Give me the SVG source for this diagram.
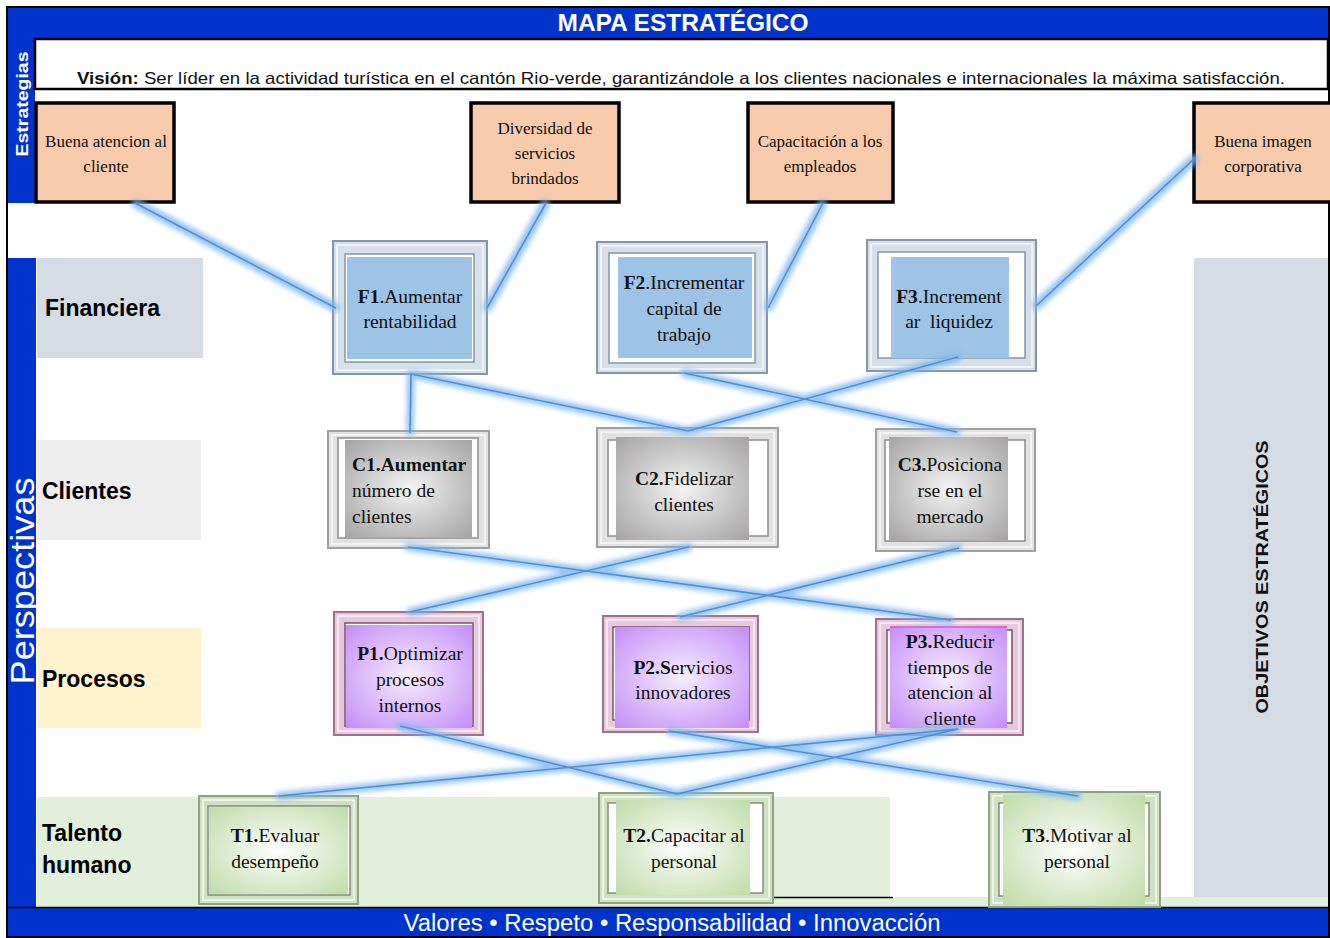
<svg xmlns="http://www.w3.org/2000/svg" width="1330" height="938" viewBox="0 0 1330 938">
<style>
.bar{fill:#0033CC}
.wt{fill:#fff;font-family:"Liberation Sans",Arial,sans-serif}
.lab{font-family:"Liberation Sans",Arial,sans-serif;font-weight:bold;font-size:23px;fill:#000}
.sbox{fill:#F8CBAD;stroke:#000;stroke-width:3.5}
.st{font-family:"Liberation Serif","Times New Roman",serif;font-size:17px;fill:#111;text-anchor:middle}
.nt{font-family:"Liberation Serif","Times New Roman",serif;font-size:19.5px;fill:#111;text-anchor:middle}
.b{font-weight:bold}
.fo{fill:#D6E0EA;stroke:#8496A9;stroke-width:2}
.fi{fill:#fff;stroke:#8496A9;stroke-width:1.5}
.fc{fill:#9DC3E6}
.co{fill:#E2E2E2;stroke:#A0A0A0;stroke-width:2}
.ci{fill:#fff;stroke:#8C8C8C;stroke-width:1.5}
.cc{fill:url(#gGray)}
.po{fill:#E8C8DC;stroke:#A0708F;stroke-width:2}
.pi{fill:#fff;stroke:#7A5070;stroke-width:1.5}
.pc{fill:url(#gPurp)}
.to{fill:#D0E0C2;stroke:#8FA383;stroke-width:2}
.ti{fill:#fff;stroke:#7E8F74;stroke-width:1.5}
.tc{fill:url(#gGreen)}
.hl{fill:none;stroke:#fff;stroke-width:1.5;opacity:0.8}
.cn{fill:none;stroke:#4F8FD8;stroke-width:1.6}
</style>
<defs>
<radialGradient id="gGray" cx="0.5" cy="0.5" r="0.7"><stop offset="0" stop-color="#F4F4F4"/><stop offset="1" stop-color="#A5A3A3"/></radialGradient>
<radialGradient id="gPurp" cx="0.5" cy="0.5" r="0.7"><stop offset="0" stop-color="#F6EEFF"/><stop offset="1" stop-color="#C48EF6"/></radialGradient>
<radialGradient id="gGreen" cx="0.5" cy="0.5" r="0.7"><stop offset="0" stop-color="#FFFFFF"/><stop offset="1" stop-color="#BFDCA9"/></radialGradient>
<filter id="glow" filterUnits="userSpaceOnUse" x="0" y="0" width="1330" height="938">
<feMorphology in="SourceAlpha" operator="dilate" radius="2.5" result="d"/>
<feGaussianBlur in="d" stdDeviation="2.5" result="bl"/>
<feFlood flood-color="#7DB7F0" flood-opacity="0.8"/>
<feComposite in2="bl" operator="in" result="g"/>
<feMerge><feMergeNode in="g"/><feMergeNode in="SourceGraphic"/></feMerge>
</filter>
</defs>

<g id="background">
<rect x="0" y="0" width="1330" height="938" fill="#fff"/>
<rect x="37" y="258" width="166" height="100" fill="#D6DCE4"/>
<rect x="37" y="440" width="164" height="100" fill="#EDEDED"/>
<rect x="37" y="628" width="164" height="100" fill="#FFF2CC"/>
<rect x="37" y="797" width="853" height="100" fill="#E2EFDA"/>
<rect x="37" y="897" width="1292" height="11" fill="#E2EFDA"/>
<rect x="1194" y="258" width="135" height="639" fill="#D6DCE4"/>
<line x1="749" y1="897.5" x2="893" y2="897.5" stroke="#000" stroke-width="1.5"/>
</g>

<g id="frame">
<rect class="bar" x="8" y="8" width="1321" height="30"/>
<rect class="bar" x="8" y="38" width="27" height="165"/>
<rect class="bar" x="8" y="258" width="28" height="650"/>
<rect class="bar" x="8" y="908" width="1321" height="29"/>
<rect x="35" y="39" width="1293" height="50" fill="#fff" stroke="#000" stroke-width="2.5"/>
<rect x="7" y="7" width="1322" height="930" fill="none" stroke="#000" stroke-width="2"/>
<line x1="7" y1="907.5" x2="1329" y2="907.5" stroke="#000" stroke-width="1.5"/>
<text class="wt" x="683" y="31" font-size="23" font-weight="bold" text-anchor="middle" textLength="251" lengthAdjust="spacingAndGlyphs">MAPA ESTRATÉGICO</text>
<text class="wt" x="672" y="931" font-size="23" text-anchor="middle" textLength="537" lengthAdjust="spacingAndGlyphs">Valores • Respeto • Responsabilidad • Innovacción</text>
<text class="wt" transform="translate(28,104) rotate(-90)" font-size="16" font-weight="bold" text-anchor="middle" textLength="105" lengthAdjust="spacingAndGlyphs">Estrategias</text>
<text class="wt" transform="translate(34,581) rotate(-90)" font-size="34" text-anchor="middle" textLength="207" lengthAdjust="spacingAndGlyphs">Perspectivas</text>
<text transform="translate(1268,577) rotate(-90)" font-family="Liberation Sans,Arial,sans-serif" font-size="17" font-weight="bold" fill="#111" text-anchor="middle" textLength="273" lengthAdjust="spacingAndGlyphs">OBJETIVOS ESTRATÉGICOS</text>
<text x="77" y="84" font-family="Liberation Sans,Arial,sans-serif" font-size="16.5" fill="#111" textLength="1208" lengthAdjust="spacingAndGlyphs"><tspan font-weight="bold">Visión:</tspan> Ser líder en la actividad turística en el cantón Rio-verde, garantizándole a los clientes nacionales e internacionales la máxima satisfacción.</text>
<text class="lab" x="45" y="316">Financiera</text>
<text class="lab" x="42" y="499">Clientes</text>
<text class="lab" x="42" y="687">Procesos</text>
<text class="lab" x="42" y="841">Talento</text>
<text class="lab" x="42" y="873">humano</text>
</g>

<g id="s1"><rect class="sbox" x="36" y="103" width="138" height="99"/><text class="st" x="106" y="147">Buena atencion al</text><text class="st" x="106" y="172">cliente</text></g>
<g id="s2"><rect class="sbox" x="471" y="103" width="148" height="99"/><text class="st" x="545" y="134">Diversidad de</text><text class="st" x="545" y="159">servicios</text><text class="st" x="545" y="184">brindados</text></g>
<g id="s3"><rect class="sbox" x="748" y="103" width="145" height="99"/><text class="st" x="820" y="147">Capacitación a los</text><text class="st" x="820" y="172">empleados</text></g>
<g id="s4"><rect class="sbox" x="1194" y="103" width="140" height="99"/><text class="st" x="1263" y="147">Buena imagen</text><text class="st" x="1263" y="172">corporativa</text></g>

<g id="F1"><rect class="fo" x="333" y="241" width="154" height="133"/><rect class="hl" x="337" y="245" width="146" height="125"/><rect class="fi" x="345" y="254" width="129" height="108"/><rect class="fc" x="347" y="257" width="125" height="102"/>
<text class="nt" x="410" y="303"><tspan class="b">F1</tspan>.Aumentar</text><text class="nt" x="410" y="328">rentabilidad</text></g>
<g id="F2"><rect class="fo" x="597" y="242" width="170" height="131"/><rect class="hl" x="601" y="246" width="162" height="123"/><rect class="fi" x="609" y="253" width="146" height="110"/><rect class="fc" x="618" y="257" width="134" height="101"/>
<text class="nt" x="684" y="289"><tspan class="b">F2</tspan>.Incrementar</text><text class="nt" x="684" y="315">capital de</text><text class="nt" x="684" y="341">trabajo</text></g>
<g id="F3"><rect class="fo" x="867" y="240" width="169" height="131"/><rect class="hl" x="871" y="244" width="161" height="123"/><rect class="fi" x="878" y="252" width="147" height="106"/><rect class="fc" x="891" y="257" width="118" height="101"/>
<text class="nt" x="949" y="303"><tspan class="b">F3</tspan>.Increment</text><text class="nt" x="949" y="328">ar&#160; liquidez</text></g>

<g id="C1"><rect class="co" x="328" y="431" width="161" height="117"/><rect class="hl" x="332" y="435" width="153" height="109"/><rect class="ci" x="338" y="438" width="140" height="100"/><rect class="cc" x="345" y="440" width="127" height="97"/>
<text class="nt b" x="352" y="471" style="text-anchor:start">C1.Aumentar</text><text class="nt" x="352" y="497" style="text-anchor:start">número de</text><text class="nt" x="352" y="523" style="text-anchor:start">clientes</text></g>
<g id="C2"><rect class="co" x="597" y="428" width="181" height="119"/><rect class="hl" x="601" y="432" width="173" height="111"/><rect class="ci" x="608" y="440" width="160" height="96"/><rect class="cc" x="616" y="437" width="133" height="103"/>
<text class="nt" x="684" y="485"><tspan class="b">C2.</tspan>Fidelizar</text><text class="nt" x="684" y="511">clientes</text></g>
<g id="C3"><rect class="co" x="876" y="429" width="159" height="122"/><rect class="hl" x="880" y="433" width="151" height="114"/><rect class="ci" x="885" y="440" width="140" height="101"/><rect class="cc" x="889" y="437" width="119" height="103"/>
<text class="nt" x="950" y="471"><tspan class="b">C3.</tspan>Posiciona</text><text class="nt" x="950" y="497">rse en el</text><text class="nt" x="950" y="523">mercado</text></g>

<g id="P1"><rect class="po" x="334" y="612" width="149" height="123"/><rect class="hl" x="338" y="616" width="141" height="115"/><rect class="pi" x="345" y="623" width="128" height="103"/><rect class="pc" x="346" y="625" width="126" height="103"/>
<text class="nt" x="410" y="660"><tspan class="b">P1.</tspan>Optimizar</text><text class="nt" x="410" y="686">procesos</text><text class="nt" x="410" y="712">internos</text></g>
<g id="P2"><rect class="po" x="603" y="616" width="155" height="116"/><rect class="hl" x="607" y="620" width="147" height="108"/><rect class="pi" x="613" y="627" width="136" height="93"/><rect class="pc" x="615" y="627" width="134" height="101"/>
<text class="nt" x="683" y="674"><tspan class="b">P2.S</tspan>ervicios</text><text class="nt" x="683" y="699">innovadores</text></g>
<g id="P3"><rect class="po" x="876" y="619" width="147" height="116"/><rect class="hl" x="880" y="623" width="139" height="108"/><rect class="pi" x="887" y="630" width="125" height="93"/><rect class="pc" x="890" y="626" width="117" height="102"/>
<line x1="890" y1="627" x2="1007" y2="627" stroke="#D45CCF" stroke-width="1.5"/>
<text class="nt" x="950" y="648"><tspan class="b">P3.</tspan>Reducir</text><text class="nt" x="950" y="674">tiempos de</text><text class="nt" x="950" y="699">atencion al</text><text class="nt" x="950" y="725">cliente</text></g>

<g id="T1"><rect class="to" x="199" y="796" width="159" height="108"/><rect class="hl" x="203" y="800" width="151" height="100"/><rect class="ti" x="208" y="806" width="142" height="89"/><rect class="tc" x="209" y="807" width="139" height="87"/>
<text class="nt" x="275" y="842"><tspan class="b">T1.</tspan>Evaluar</text><text class="nt" x="275" y="868">desempeño</text></g>
<g id="T2"><rect class="to" x="599" y="793" width="174" height="110"/><rect class="hl" x="603" y="797" width="166" height="102"/><rect class="ti" x="608" y="803" width="155" height="90"/><rect class="tc" x="616" y="800" width="134" height="95"/>
<text class="nt" x="684" y="842"><tspan class="b">T2.</tspan>Capacitar al</text><text class="nt" x="684" y="868">personal</text></g>
<g id="T3"><rect class="to" x="989" y="792" width="171" height="115"/><rect class="hl" x="993" y="796" width="163" height="107"/><rect class="ti" x="999" y="803" width="150" height="93"/><rect class="tc" x="1003" y="795" width="142" height="110"/>
<text class="nt" x="1077" y="842"><tspan class="b">T3</tspan>.Motivar al</text><text class="nt" x="1077" y="868">personal</text></g>

<g id="connectors" filter="url(#glow)">
<line class="cn" x1="135" y1="203" x2="336" y2="308"/>
<line class="cn" x1="546" y1="203" x2="487" y2="308"/>
<line class="cn" x1="823" y1="203" x2="768" y2="308"/>
<line class="cn" x1="1195" y1="158" x2="1036" y2="306"/>
<line class="cn" x1="411" y1="374" x2="410" y2="433"/>
<line class="cn" x1="411" y1="374" x2="688" y2="431"/>
<line class="cn" x1="684" y1="373" x2="957" y2="432"/>
<line class="cn" x1="958" y1="357" x2="688" y2="431"/>
<line class="cn" x1="408" y1="547" x2="951" y2="620"/>
<line class="cn" x1="689" y1="547" x2="410" y2="612"/>
<line class="cn" x1="959" y1="548" x2="680" y2="617"/>
<line class="cn" x1="400" y1="726" x2="677" y2="794"/>
<line class="cn" x1="669" y1="731" x2="1078" y2="796"/>
<line class="cn" x1="958" y1="729" x2="279" y2="796"/>
<line class="cn" x1="958" y1="729" x2="677" y2="794"/>
</g>
</svg>
